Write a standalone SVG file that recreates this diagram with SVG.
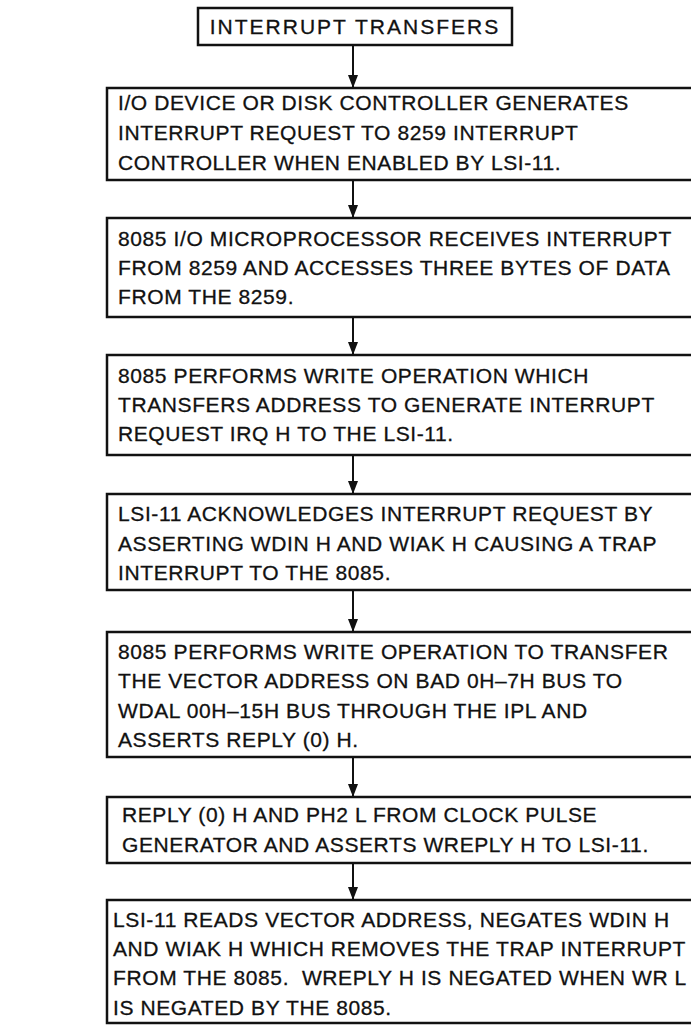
<svg xmlns="http://www.w3.org/2000/svg" width="691" height="1026" viewBox="0 0 691 1026">
<style>
.box{fill:#fff;stroke:#111;stroke-width:2.5}
.t{font-family:"Liberation Sans",Arial,Helvetica,sans-serif;font-size:21px;fill:#111;stroke:#111;stroke-width:0.3;letter-spacing:0.6px}
.title{letter-spacing:2px}
.c{stroke:#111;stroke-width:2;fill:none}
</style>
<defs>
<marker id="ah" markerUnits="userSpaceOnUse" markerWidth="14" markerHeight="12" viewBox="0 0 14 12" refX="13" refY="6" orient="auto">
<path d="M0,1 L13,6 L0,11 Z" fill="#111"/>
</marker>
</defs>
<rect width="691" height="1026" fill="#fff"/>
<g id="connectors">
<line class="c" x1="353" y1="45" x2="353" y2="88" marker-end="url(#ah)"/>
<line class="c" x1="353" y1="180" x2="353" y2="218" marker-end="url(#ah)"/>
<line class="c" x1="353" y1="317" x2="353" y2="355" marker-end="url(#ah)"/>
<line class="c" x1="353" y1="455" x2="353" y2="494" marker-end="url(#ah)"/>
<line class="c" x1="353" y1="590" x2="353" y2="632" marker-end="url(#ah)"/>
<line class="c" x1="353" y1="757" x2="353" y2="797" marker-end="url(#ah)"/>
<line class="c" x1="353" y1="863" x2="353" y2="900" marker-end="url(#ah)"/>
</g>
<g id="title">
<rect class="box" x="198" y="8" width="314" height="37"/>
<text class="t title" x="355" y="34" text-anchor="middle">INTERRUPT TRANSFERS</text>
</g>
<g id="step1">
<rect class="box" x="107" y="88" width="600" height="92"/>
<text class="t" x="118" y="110">I/O DEVICE OR DISK CONTROLLER GENERATES</text>
<text class="t" x="118" y="140">INTERRUPT REQUEST TO 8259 INTERRUPT</text>
<text class="t" x="118" y="170">CONTROLLER WHEN ENABLED BY LSI-11.</text>
</g>
<g id="step2">
<rect class="box" x="107" y="218" width="600" height="99"/>
<text class="t" x="118" y="246">8085 I/O MICROPROCESSOR RECEIVES INTERRUPT</text>
<text class="t" x="118" y="275">FROM 8259 AND ACCESSES THREE BYTES OF DATA</text>
<text class="t" x="118" y="304">FROM THE 8259.</text>
</g>
<g id="step3">
<rect class="box" x="107" y="355" width="600" height="100"/>
<text class="t" x="118" y="383">8085 PERFORMS WRITE OPERATION WHICH</text>
<text class="t" x="118" y="412">TRANSFERS ADDRESS TO GENERATE INTERRUPT</text>
<text class="t" x="118" y="441">REQUEST IRQ H TO THE LSI-11.</text>
</g>
<g id="step4">
<rect class="box" x="107" y="494" width="600" height="96"/>
<text class="t" x="118" y="521">LSI-11 ACKNOWLEDGES INTERRUPT REQUEST BY</text>
<text class="t" x="118" y="551">ASSERTING WDIN H AND WIAK H CAUSING A TRAP</text>
<text class="t" x="118" y="580">INTERRUPT TO THE 8085.</text>
</g>
<g id="step5">
<rect class="box" x="107" y="632" width="600" height="125"/>
<text class="t" x="118" y="659">8085 PERFORMS WRITE OPERATION TO TRANSFER</text>
<text class="t" x="118" y="688">THE VECTOR ADDRESS ON BAD 0H–7H BUS TO</text>
<text class="t" x="118" y="718">WDAL 00H–15H BUS THROUGH THE IPL AND</text>
<text class="t" x="118" y="747">ASSERTS REPLY (0) H.</text>
</g>
<g id="step6">
<rect class="box" x="107" y="797" width="600" height="66"/>
<text class="t" x="122" y="822">REPLY (0) H AND PH2 L FROM CLOCK PULSE</text>
<text class="t" x="122" y="852">GENERATOR AND ASSERTS WREPLY H TO LSI-11.</text>
</g>
<g id="step7">
<rect class="box" x="107" y="900" width="600" height="123"/>
<text class="t" x="113" y="927">LSI-11 READS VECTOR ADDRESS, NEGATES WDIN H</text>
<text class="t" x="113" y="956">AND WIAK H WHICH REMOVES THE TRAP INTERRUPT</text>
<text class="t" x="113" y="985">FROM THE 8085.&#160; WREPLY H IS NEGATED WHEN WR L</text>
<text class="t" x="113" y="1015">IS NEGATED BY THE 8085.</text>
</g>
</svg>
